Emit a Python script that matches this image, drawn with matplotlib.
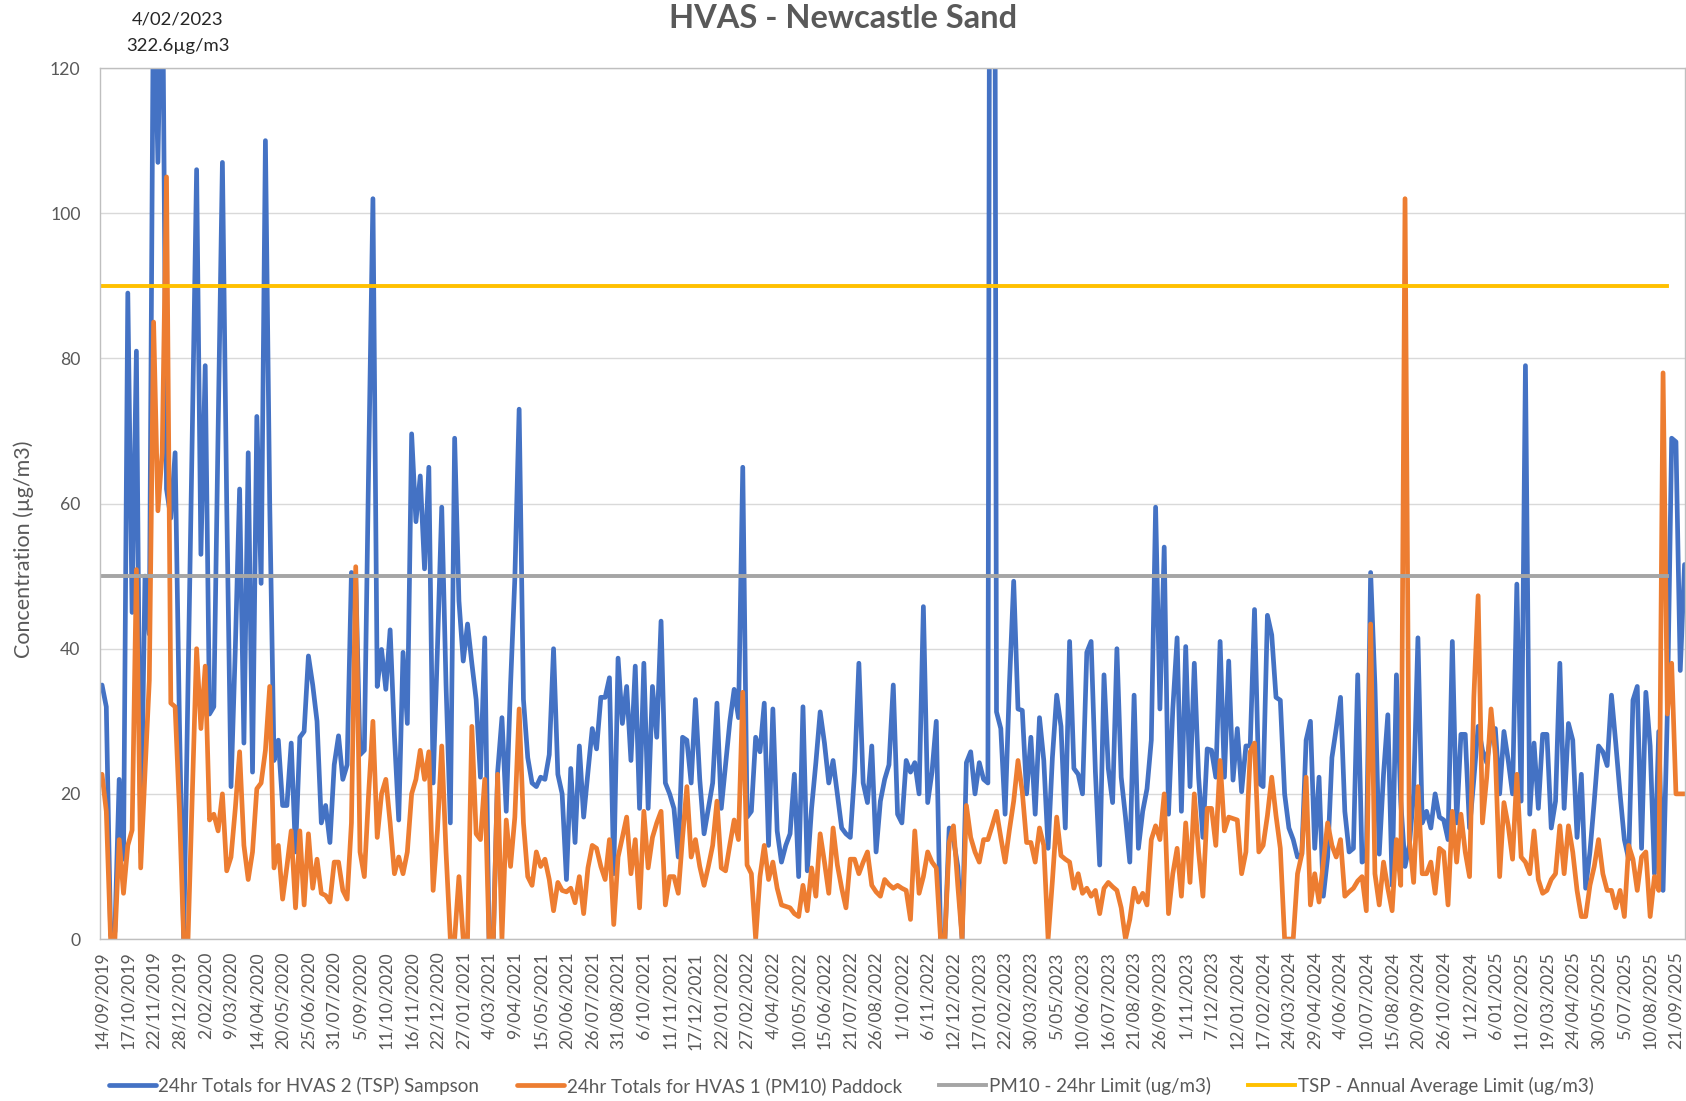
"""HVAS - Newcastle Sand: 24hr totals vs limits"""
import matplotlib
matplotlib.use('Agg')
import matplotlib.pyplot as plt
import numpy as np

matplotlib.rcParams.update({
    'font.family': ['Lato', 'DejaVu Sans'],
    'font.size': 12.5, 'text.color': '#595959',
    'axes.edgecolor': '#BFBFBF', 'axes.linewidth': 1.0,
    'xtick.color': '#595959', 'ytick.color': '#595959',
    'xtick.labelsize': 12.7, 'ytick.labelsize': 12.7,
})

# 24hr totals, one sample every 6 days (14/09/2019 -> 21/09/2025)
tsp_sampson = [
    35, 32, 0.5, 1, 22, 11, 89, 45, 81, 12,
    50, 42, 135, 107, 140, 62, 58, 67, 30, 0,
    35, 70, 106, 53, 79, 31, 32, 70, 107, 60,
    21, 40, 62, 27, 67, 23, 72, 49, 110, 60,
    24.6, 27.4, 18.4, 18.4, 27, 12, 27.8, 28.6, 39, 35,
    30, 16, 18.4, 13.3, 24, 28, 22, 24, 50.5, 50,
    25.4, 26, 65, 102, 34.8, 39.9, 34.4, 42.6, 28, 16.4,
    39.5, 29.7, 69.6, 57.5, 63.8, 51, 65, 21.5, 40, 59.5,
    35, 16, 69, 46.6, 38.3, 43.4, 38, 33, 22.3, 41.5,
    0, 0, 23, 30.5, 17.6, 35, 49.7, 73, 33, 25,
    21.5, 21, 22.3, 22, 25.4, 40, 22.7, 20, 8.2, 23.5,
    13.3, 26.6, 16.8, 23, 29, 26.2, 33.3, 33.3, 36, 9,
    38.7, 29.7, 34.8, 24.6, 37.6, 18, 38, 18, 34.8, 27.8,
    43.8, 21.5, 20, 18, 11.3, 27.8, 27.4, 21.5, 33, 22,
    14.5, 18, 21.5, 32.5, 18, 24, 30, 34.4, 30.5, 65,
    16.8, 17.6, 27.8, 25.8, 32.5, 12.9, 31.7, 14.9, 10.6, 12.9,
    14.5, 22.7, 8.6, 32, 9.4, 18, 24.3, 31.3, 27, 21.5,
    24.6, 20, 15.3, 14.5, 14, 23, 38, 21.5, 18.8, 26.6,
    12, 19, 22, 24, 35, 17.2, 16, 24.6, 23, 24.3,
    20, 45.8, 18.8, 23, 30, 0, 0, 15.3, 13.7, 10,
    0, 24.3, 25.8, 20, 24.3, 22, 21.5, 322.6, 31.3, 29,
    17.2, 35, 49.3, 31.7, 31.5, 20, 27.8, 17.2, 30.5, 24.6,
    12.5, 25, 33.6, 29.3, 15.3, 41, 23.5, 22.7, 20, 39.5,
    41, 23, 10.2, 36.4, 23.5, 18.8, 40, 22.3, 16.8, 10.6,
    33.6, 12.5, 17.6, 20.7, 27.4, 59.5, 31.7, 54, 17.2, 31.7,
    41.5, 17.6, 40.3, 21, 38, 22.3, 14, 26.2, 26, 22.3,
    41, 22.3, 38.3, 21.9, 29, 20.3, 26.6, 26.6, 45.4, 21.5,
    21, 44.6, 41.9, 33.3, 32.9, 20, 15.3, 13.7, 11.3, 11.7,
    27.4, 30, 12.5, 22.3, 5.9, 11.3, 25, 29, 33.3, 17.6,
    12, 12.5, 36.4, 10.6, 11, 50.5, 35, 11.7, 22.7, 30.9,
    7.4, 36.4, 19, 10, 12.9, 20, 41.5, 16, 17.6, 15.3,
    20, 16.8, 16.4, 13.7, 41, 16, 28.2, 28.2, 15.3, 22,
    29.3, 26, 24.3, 28.6, 29, 20, 28.6, 24.6, 20, 48.9,
    19, 79, 17.2, 27, 18, 28.2, 28.2, 15.3, 19, 38,
    18, 29.7, 27.4, 14, 22.7, 7, 12, 19, 26.6, 25.8,
    23.9, 33.6, 27, 20, 13.7, 11, 32.9, 34.8, 12.5, 34,
    26.6, 9, 28.6, 6.7, 31.3, 69, 68.5, 37, 51.6,
]

pm10_paddock = [
    22.7, 17.6, 0, 0, 13.7, 6.3, 12.9, 15, 50.9, 9.8,
    23, 35.6, 85, 59, 67, 105, 32.5, 32, 18, 0,
    0, 20, 40, 29, 37.6, 16.4, 17.2, 14.9, 20, 9.4,
    11.3, 18, 25.8, 12.9, 8.2, 12, 20.7, 21.5, 26, 34.8,
    9.8, 12.9, 5.5, 10, 14.9, 4.3, 14.9, 4.7, 14.5, 7,
    11, 6.3, 6, 5.1, 10.6, 10.6, 6.7, 5.5, 16, 51.3,
    12, 8.6, 20, 30, 14, 20, 22, 16, 9, 11.3,
    9, 12, 20, 22, 26, 22, 25.8, 6.7, 15, 26.6,
    12, 0, 0, 8.6, 0, 0, 29.3, 14.5, 13.7, 22,
    0, 0, 22.7, 0, 16.4, 10, 16.8, 31.7, 16, 8.6,
    7.4, 12, 10, 11, 8.2, 3.9, 7.8, 6.7, 6.5, 7,
    5, 8.6, 3.5, 9.8, 12.9, 12.5, 10, 8.2, 13.7, 2,
    11.3, 14, 16.8, 9, 13.7, 4.3, 17.6, 9.8, 14, 16,
    17.6, 4.7, 8.6, 8.6, 6.3, 14, 21, 11.3, 13.7, 10,
    7.4, 10, 12.9, 19, 9.8, 9.4, 13, 16.4, 13.7, 34,
    10.2, 9, 0, 8.6, 12.9, 8.2, 10.6, 7, 4.7, 4.5,
    4.3, 3.5, 3.1, 7.4, 3.9, 9.8, 5.9, 14.5, 10.6, 6.3,
    15.3, 10.2, 7, 4.3, 11, 11, 9, 10.6, 12, 7.4,
    6.5, 5.9, 8.2, 7.5, 7, 7.4, 7, 6.7, 2.7, 14.9,
    6.3, 8.6, 12, 10.6, 9.8, 0, 0, 13.3, 15.6, 7.4,
    0, 18.4, 14, 12, 10.6, 13.7, 13.7, 15.6, 17.6, 14,
    10.6, 15, 19, 24.6, 20.3, 13.3, 13.3, 10.6, 15.3, 12.9,
    0, 8, 16.8, 11.5, 11, 10.6, 7, 9, 6.3, 7,
    5.9, 6.7, 3.5, 7, 7.8, 7.2, 6.7, 4.3, 0, 2.7,
    7, 5.1, 6.3, 4.7, 13.7, 15.6, 13.7, 20, 3.5, 9,
    12.5, 5.9, 16, 7.8, 20, 12, 5.9, 18, 18, 12.9,
    24.6, 14.9, 16.8, 16.6, 16.4, 9, 12, 25.8, 27, 12,
    12.9, 17, 22.3, 17, 12.5, 0, 0, 0, 9, 11.7,
    22.3, 4.7, 9, 5.1, 10.6, 16, 12.9, 11.3, 13.7, 5.9,
    6.5, 7, 8, 8.6, 3.9, 43.4, 9, 4.7, 10.6, 7,
    3.9, 13.7, 7.4, 102, 13.7, 7.8, 21, 9, 9, 10.6,
    6.3, 12.5, 12, 4.7, 17.6, 10.6, 17.2, 12, 8.6, 33.3,
    47.3, 16, 22.3, 31.7, 25.4, 8.6, 18.8, 15.6, 11, 22.7,
    11.3, 10.6, 9, 14.9, 8.2, 6.3, 6.7, 8.2, 9, 15.6,
    9, 15.6, 12, 6.7, 3.1, 3.1, 7.4, 10, 13.7, 9,
    6.7, 6.7, 4.3, 6.7, 3.1, 12.9, 11, 6.7, 11.3, 12,
    3.1, 8.6, 6.7, 78, 31, 38, 20, 20, 20,
]

PM10_LIMIT = 50   # ug/m3, 24hr
TSP_LIMIT = 90    # ug/m3, annual average
n_limit = 365     # limit series stop a few samples before the end

tick_labels = [
    '14/09/2019', '17/10/2019', '22/11/2019', '28/12/2019', '2/02/2020', '9/03/2020',
    '14/04/2020', '20/05/2020', '25/06/2020', '31/07/2020', '5/09/2020', '11/10/2020',
    '16/11/2020', '22/12/2020', '27/01/2021', '4/03/2021', '9/04/2021', '15/05/2021',
    '20/06/2021', '26/07/2021', '31/08/2021', '6/10/2021', '11/11/2021', '17/12/2021',
    '22/01/2022', '27/02/2022', '4/04/2022', '10/05/2022', '15/06/2022', '21/07/2022',
    '26/08/2022', '1/10/2022', '6/11/2022', '12/12/2022', '17/01/2023', '22/02/2023',
    '30/03/2023', '5/05/2023', '10/06/2023', '16/07/2023', '21/08/2023', '26/09/2023',
    '1/11/2023', '7/12/2023', '12/01/2024', '17/02/2024', '24/03/2024', '29/04/2024',
    '4/06/2024', '10/07/2024', '15/08/2024', '20/09/2024', '26/10/2024', '1/12/2024',
    '6/01/2025', '11/02/2025', '19/03/2025', '24/04/2025', '30/05/2025', '5/07/2025',
    '10/08/2025', '21/09/2025',
]
tick_step = 6

C_TSP, C_PM, C_PMLIM, C_TSPLIM = '#4472C4', '#ED7D31', '#A5A5A5', '#FFC000'

n = min(len(tsp_sampson), len(pm10_paddock))
x = np.arange(n)
xl = np.arange(n_limit)

fig = plt.figure(figsize=(16.86, 11.01), dpi=100)
ax = fig.add_axes([0.0593, 0.1471, 0.9401, 0.7911])

kw = dict(lw=3.4, solid_joinstyle='round', solid_capstyle='round')
ax.plot(x, tsp_sampson[:n], color=C_TSP, label='24hr Totals for HVAS 2 (TSP) Sampson', **kw)
ax.plot(x, pm10_paddock[:n], color=C_PM, label='24hr Totals for HVAS 1 (PM10) Paddock', **kw)
ax.plot(xl, [PM10_LIMIT] * n_limit, color=C_PMLIM, lw=2.8, label='PM10 - 24hr Limit (ug/m3)')
ax.plot(xl, [TSP_LIMIT] * n_limit, color=C_TSPLIM, lw=2.8, label='TSP - Annual Average Limit (ug/m3)')

ax.set_ylim(0, 120)
ax.set_yticks(range(0, 121, 20))
ax.set_xlim(-0.47, 368.1)
ax.set_xticks(np.arange(len(tick_labels)) * tick_step)
ax.set_xticklabels(tick_labels, rotation=90)
ax.tick_params(axis='both', length=0)
ax.tick_params(axis='y', pad=14)
ax.tick_params(axis='x', pad=9)
ax.grid(axis='y', color='#D9D9D9', lw=1.0)
ax.set_axisbelow(True)

fig.text(0.5, 0.983, 'HVAS - Newcastle Sand', ha='center', va='center',
         fontsize=23.5, fontweight='bold', color='#595959')
fig.text(0.0142, 0.5014, 'Concentration (\u00b5g/m3)', rotation=90, ha='center', va='center',
         fontsize=15.5, color='#595959')
fig.text(0.1056, 0.9827, '4/02/2023', ha='center', va='center', fontsize=13.3, color='#262626')
fig.text(0.1056, 0.9582, '322.6\u00b5g/m3', ha='center', va='center', fontsize=13.3, color='#262626')

fig.legend(loc='center', bbox_to_anchor=(0.505, 0.0136), ncol=4, frameon=False,
           fontsize=13.5, handlelength=2.5, handletextpad=0.15, columnspacing=2.0)

plt.savefig('out.png', dpi=100)
plt.close()
